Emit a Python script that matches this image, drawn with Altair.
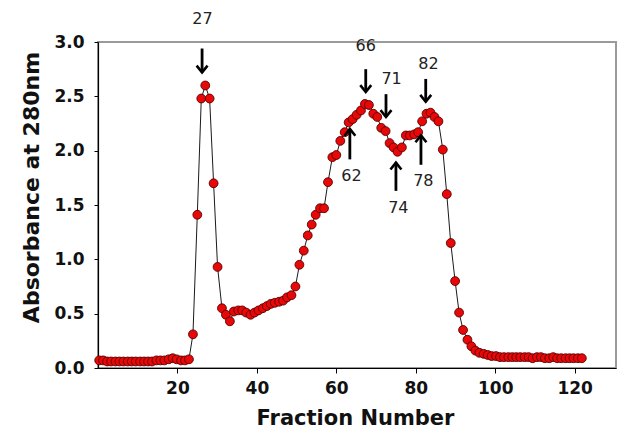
import altair as alt
import pandas as pd

fraction_pos = [
    0.3, 1.3, 2.3, 3.3, 4.4, 5.4, 6.4, 7.5, 8.5, 9.5,
    10.6, 11.6, 12.6, 13.6, 14.7, 15.7, 16.7, 17.8, 18.8, 19.8,
    20.9, 21.9, 22.9, 23.9, 25.0, 26.0, 27.0, 28.1, 29.1, 30.1,
    31.2, 32.2, 33.2, 34.2, 35.3, 36.3, 37.3, 38.4, 39.4, 40.4,
    41.5, 42.5, 43.5, 44.5, 45.6, 46.6, 47.6, 48.7, 49.7, 50.7,
    51.8, 52.8, 53.8, 54.8, 55.9, 56.9, 57.9, 59.0, 60.0, 61.0,
    62.1, 63.1, 64.1, 65.1, 66.2, 67.2, 68.2, 69.3, 70.3, 71.3,
    72.4, 73.4, 74.4, 75.4, 76.5, 77.5, 78.5, 79.6, 80.6, 81.6,
    82.7, 83.7, 84.7, 85.7, 86.8, 87.8, 88.8, 89.9, 90.9, 91.9,
    93.0, 94.0, 95.0, 96.0, 97.1, 98.1, 99.1, 100.2, 101.2, 102.2,
    103.3, 104.3, 105.3, 106.3, 107.4, 108.4, 109.4, 110.5, 111.5, 112.5,
    113.6, 114.6, 115.6, 116.6, 117.7, 118.7, 119.7, 120.8, 121.8,
]

absorbance = [
    0.07, 0.07, 0.06, 0.06, 0.06, 0.06, 0.06, 0.06, 0.06, 0.06,
    0.06, 0.06, 0.06, 0.06, 0.07, 0.07, 0.07, 0.08, 0.09, 0.08,
    0.07, 0.07, 0.08, 0.31, 1.41, 2.48, 2.60, 2.48, 1.70, 0.93,
    0.55, 0.49, 0.43, 0.52, 0.53, 0.53, 0.51, 0.49, 0.51, 0.53,
    0.55, 0.57, 0.59, 0.60, 0.61, 0.62, 0.65, 0.67, 0.75, 0.95,
    1.08, 1.22, 1.32, 1.41, 1.47, 1.47, 1.71, 1.94, 1.96, 2.09,
    2.17, 2.26, 2.29, 2.33, 2.37, 2.43, 2.42, 2.34, 2.31, 2.21,
    2.18, 2.07, 2.03, 1.99, 2.03, 2.14, 2.14, 2.15, 2.17, 2.27,
    2.34, 2.35, 2.31, 2.27, 2.01, 1.60, 1.15, 0.80, 0.51, 0.35,
    0.26, 0.20, 0.16, 0.14, 0.13, 0.12, 0.11, 0.11, 0.10, 0.10,
    0.10, 0.10, 0.10, 0.10, 0.10, 0.10, 0.09, 0.10, 0.10, 0.09,
    0.09, 0.10, 0.09, 0.09, 0.09, 0.09, 0.09, 0.09, 0.09,
]

# annotation arrows (fraction labels)
arrow_label = ["27", "66", "71", "82", "62", "74", "78"]
arrow_x = [26.2, 67.4, 72.5, 82.5, 63.4, 75.0, 81.3]
arrow_tail = [2.94, 2.75, 2.52, 2.66, 1.92, 1.63, 1.87]
arrow_tip = [2.72, 2.54, 2.31, 2.45, 2.20, 1.89, 2.14]
arrow_dir = ["down", "down", "down", "down", "up", "up", "up"]
label_x = [26.3, 67.4, 73.9, 83.2, 63.8, 75.6, 81.9]
label_y = [3.21, 2.96, 2.66, 2.80, 1.77, 1.47, 1.72]

x_ticks = [20, 40, 60, 80, 100, 120]
y_ticks = [0.0, 0.5, 1.0, 1.5, 2.0, 2.5, 3.0]

df = pd.DataFrame({"x": fraction_pos, "y": absorbance})
arrows = pd.DataFrame({"x": arrow_x, "y": arrow_tip, "tail": arrow_tail,
                       "dir": arrow_dir})
labels = pd.DataFrame({"x": label_x, "y": label_y, "text": arrow_label})

x_enc = alt.X("x:Q", title="Fraction Number",
              scale=alt.Scale(domain=[0, 130.4], nice=False, zero=False),
              axis=alt.Axis(values=x_ticks, titleX=257, titleY=50,
                            titleBaseline="middle", titleFontSize=21,
                            tickSize=5, labelPadding=7))
y_enc = alt.Y("y:Q", title="Absorbance at 280nm",
              scale=alt.Scale(domain=[0, 3], nice=False),
              axis=alt.Axis(values=y_ticks, format=".1f", titleFontSize=22,
                            titleAngle=-90, titleX=-67, titleY=145,
                            titleBaseline="middle", titleAlign="center",
                            tickSize=4, labelPadding=10))

line = alt.Chart(df).mark_line(color="#1a1a1a", strokeWidth=1).encode(
    x=x_enc, y=y_enc)
pts = alt.Chart(df).mark_point(
    filled=True, shape="circle", size=78, fill="#e80808", fillOpacity=1,
    stroke="#5a0000", strokeWidth=0.9, opacity=1).encode(x=x_enc, y=y_enc)

shafts = alt.Chart(arrows).mark_rule(color="black", strokeWidth=2.8).encode(
    x=x_enc, y=y_enc, y2="tail:Q")
heads_down = alt.Chart(arrows).transform_filter(alt.datum.dir == "down").mark_point(
    shape="M-1,-1.25L0,0L1,-1.25", filled=False, size=120, color="black",
    strokeWidth=2.6, opacity=1).encode(x=x_enc, y=y_enc)
heads_up = alt.Chart(arrows).transform_filter(alt.datum.dir == "up").mark_point(
    shape="M-1,1.25L0,0L1,1.25", filled=False, size=120, color="black",
    strokeWidth=2.6, opacity=1).encode(x=x_enc, y=y_enc)

texts = alt.Chart(labels).mark_text(
    font="DejaVu Sans", fontSize=16, color="#222222", baseline="middle",
    align="center").encode(x=x_enc, y=y_enc, text="text:N")

chart = alt.layer(line, pts, shafts, heads_down, heads_up, texts).properties(
    width=518, height=326,
    autosize=alt.AutoSizeParams(type="none"),
    padding={"left": 90, "top": 34, "right": 1, "bottom": 62},
).configure_view(
    stroke="#9a9a9a", strokeWidth=2
).configure_axis(
    grid=False, domainColor="black", domainWidth=1.2, tickColor="black",
    tickWidth=1, labelFont="DejaVu Sans", labelFontWeight="bold",
    labelFontSize=17, labelColor="#111111", titleFont="DejaVu Sans",
    titleFontWeight="bold", titleColor="#111111",
)

chart.save("out.html", embed_options={"renderer": "svg", "actions": False})
